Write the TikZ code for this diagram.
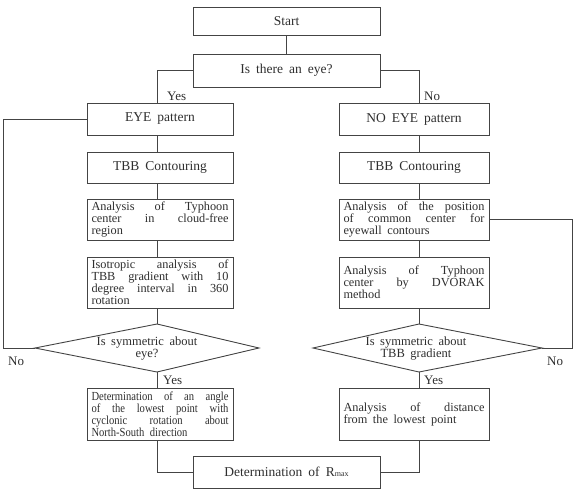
\documentclass[tikz,border=0pt]{standalone}
\usepackage{fontspec}
\setmainfont{Liberation Serif}[WordSpace=1.8]
\newfontfamily\condfont{Liberation Serif}[WordSpace=1.8,FakeStretch=0.86]
\tolerance=10000
\hbadness=10000
\newcommand\widesp{\spaceskip 0.45em plus 8em minus 0.05em\relax}
\definecolor{lc}{HTML}{444444}
\definecolor{tc}{HTML}{2E2E2E}
\tikzset{
  line/.style={draw=lc, line width=0.9pt},
  sbox/.style={line, text=tc, inner sep=0pt, font=\fontsize{13.5}{14}\selectfont},
  mbox/.style={line, text=tc, inner xsep=4.5pt, inner ysep=0pt, align=justify,
               font=\fontsize{12.3}{12}\selectfont, execute at begin node=\widesp},
  qtext/.style={text=tc, inner sep=0pt, align=center, font=\fontsize{12.5}{12}\selectfont},
  lab/.style={text=tc, inner sep=0pt, anchor=west, font=\fontsize{13}{14}\selectfont}
}
\begin{document}
\begin{tikzpicture}[x=1pt,y=-1pt]
\useasboundingbox (0,0) rectangle (573,490);
\coordinate (colL) at (157,0);
\coordinate (colR) at (419,0);
% top boxes
\node[sbox, minimum width=187, minimum height=28] (start) at (286.5,21) {Start};
\node[sbox, minimum width=187, minimum height=33] (q1) at (286.5,70.5) {Is there an eye?};
% left column
\node[sbox, minimum width=146, minimum height=32] (eye) at (160,119) {EYE pattern};
\node[sbox, minimum width=146, minimum height=31] (tbbL) at (160,167.5) {TBB Contouring};
\node[mbox, text width=137, minimum height=41] (anL) at (160,219.5)
  {Analysis of Typhoon\linebreak center in cloud-free\linebreak region};
\node[mbox, text width=137, minimum height=51] (isoL) at (160,282.5)
  {Isotropic analysis of\linebreak TBB gradient with 10\linebreak degree interval in 360\linebreak rotation};
\node[mbox, text width=137, minimum height=52, font=\condfont\fontsize{12.3}{12}\selectfont] (detL) at (160,414)
  {Determination of an angle\linebreak of the lowest point with\linebreak cyclonic rotation about\linebreak North-South direction};
% right column
\node[sbox, minimum width=150, minimum height=32] (noeye) at (414,119) {NO EYE pattern};
\node[sbox, minimum width=150, minimum height=31] (tbbR) at (414,167.5) {TBB Contouring};
\node[mbox, text width=141, minimum height=41] (anR) at (414,219.5)
  {Analysis of the position\linebreak of common center for\linebreak eyewall contours};
\node[mbox, text width=141, minimum height=51] (dvR) at (414,282.5)
  {Analysis of Typhoon\linebreak center by DVORAK\linebreak method};
\node[mbox, text width=141, minimum height=52] (distR) at (414,414)
  {Analysis of distance\linebreak from the lowest point};
% final
\node[sbox, minimum width=187, minimum height=32] (final) at (286.5,472)
  {Determination of R{\fontsize{8}{8}\selectfont max}};
% diamonds
\coordinate (dLl) at (35,348);
\coordinate (dLt) at (157,324);
\coordinate (dLr) at (259,348);
\coordinate (dLb) at (157,372);
\draw[line] (dLl) -- (dLt) -- (dLr) -- (dLb) -- cycle;
\node[qtext] (qL) at (147,349) {Is symmetric about\\eye?};
\coordinate (dRl) at (313,348);
\coordinate (dRt) at (419,324);
\coordinate (dRr) at (542,348);
\coordinate (dRb) at (419,372);
\draw[line] (dRl) -- (dRt) -- (dRr) -- (dRb) -- cycle;
\node[qtext] (qR) at (416,349) {Is symmetric about\\TBB gradient};
% loop coordinates
\coordinate (lpL) at (3,348);
\coordinate (lpR) at (572,348);
% connectors
\draw[line] (start) -- (q1);
\draw[line] (q1.west) -| (eye.north -| colL);
\draw[line] (q1.east) -| (noeye.north -| colR);
\draw[line] (eye.south -| colL) -- (tbbL.north -| colL);
\draw[line] (tbbL.south -| colL) -- (anL.north -| colL);
\draw[line] (anL.south -| colL) -- (isoL.north -| colL);
\draw[line] (isoL.south -| colL) -- (dLt);
\draw[line] (dLb) -- (detL.north -| colL);
\draw[line] (detL.south -| colL) |- (final.west);
\draw[line] (noeye.south -| colR) -- (tbbR.north -| colR);
\draw[line] (tbbR.south -| colR) -- (anR.north -| colR);
\draw[line] (anR.south -| colR) -- (dvR.north -| colR);
\draw[line] (dvR.south -| colR) -- (dRt);
\draw[line] (dRb) -- (distR.north -| colR);
\draw[line] (distR.south -| colR) |- (final.east);
\draw[line] (eye.west) -| (lpL) -- (dLl);
\draw[line] (anR.east) -| (lpR) -- (dRr);
% labels
\node[lab] (yes1) at (167,96.5) {Yes};
\node[lab] (no1) at (424,96) {No};
\node[lab] (no2) at (8,361) {No};
\node[lab] (no3) at (547,361) {No};
\node[lab] (yes2) at (163,380) {Yes};
\node[lab] (yes3) at (424,380) {Yes};
\end{tikzpicture}
\end{document}
